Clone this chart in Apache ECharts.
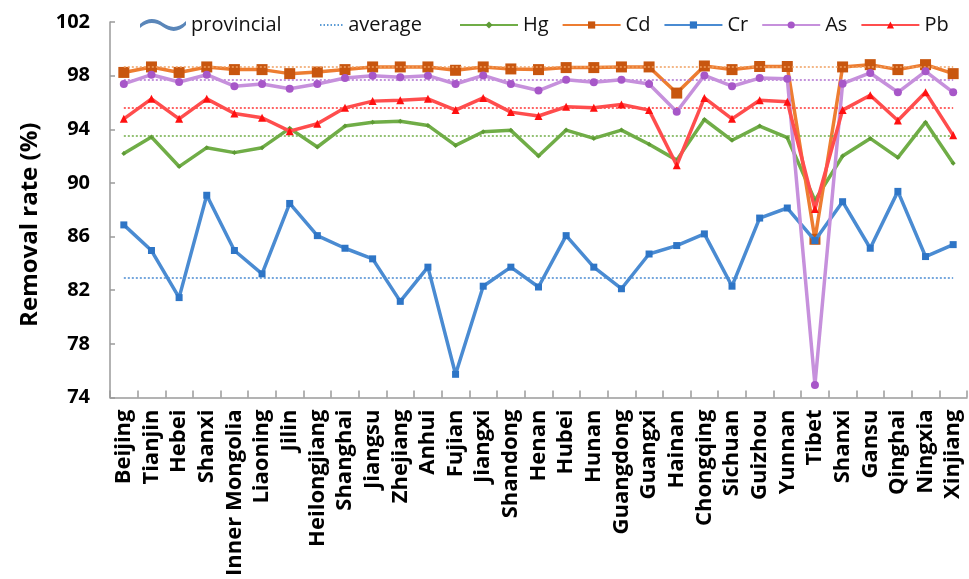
<!DOCTYPE html>
<html>
<head>
<meta charset="utf-8">
<title>Removal rate by province</title>
<script src="https://cdn.jsdelivr.net/npm/echarts@6/dist/echarts.min.js"></script>
<style>
  html, body { margin: 0; padding: 0; background: #ffffff; }
  #chart { width: 969px; height: 579px; }
</style>
</head>
<body>
<div id="chart"></div>
<script>
// Provinces along the x axis
const categories = ['Beijing','Tianjin','Hebei','Shanxi','Inner Mongolia','Liaoning','Jilin','Heilongjiang','Shanghai','Jiangsu','Zhejiang','Anhui','Fujian','Jiangxi','Shandong','Henan','Hubei','Hunan','Guangdong','Guangxi','Hainan','Chongqing','Sichuan','Guizhou','Yunnan','Tibet','Shanxi','Gansu','Qinghai','Ningxia','Xinjiang'];

// Provincial removal rates (%) per metal
const hg = [92.19,93.42,91.22,92.63,92.26,92.63,94.07,92.68,94.24,94.53,94.60,94.29,92.80,93.82,93.92,92.01,93.94,93.32,93.94,92.88,91.70,94.73,93.18,94.24,93.37,88.70,92.01,93.32,91.89,94.53,91.47];
const cd = [98.24,98.65,98.24,98.65,98.45,98.45,98.15,98.27,98.45,98.65,98.65,98.65,98.40,98.65,98.50,98.45,98.60,98.60,98.65,98.65,96.70,98.72,98.45,98.68,98.68,85.80,98.65,98.82,98.45,98.82,98.15];
const cr = [86.87,84.96,81.45,89.08,84.96,83.22,88.47,86.07,85.13,84.34,81.17,83.72,75.73,82.30,83.72,82.24,86.07,83.72,82.11,84.70,85.33,86.20,82.30,87.38,88.13,85.70,88.60,85.13,89.37,84.51,85.40];
const as = [97.38,98.07,97.53,98.07,97.21,97.38,97.03,97.38,97.82,98.00,97.88,98.00,97.38,98.02,97.38,96.89,97.70,97.50,97.70,97.38,95.31,98.02,97.21,97.82,97.77,74.94,97.40,98.20,96.76,98.32,96.76];
const pb = [94.78,96.27,94.78,96.27,95.18,94.86,93.86,94.41,95.60,96.10,96.17,96.27,95.43,96.34,95.28,94.99,95.68,95.60,95.85,95.43,91.32,96.34,94.78,96.17,96.05,88.05,95.43,96.54,94.66,96.76,93.55];

// National averages, in the order Hg, Cd, Cr, As, Pb
const metals = ['Hg','Cd','Cr','As','Pb'];
const averages = [93.55, 98.65, 82.91, 97.70, 95.60];

// Y axis ticks
const yTicks = [74, 78, 82, 86, 90, 94, 98, 102];

const chart = echarts.init(document.getElementById('chart'), null, { renderer: 'canvas' });

const FONT = 'Open Sans';

const styles = {
  Hg: { line: '#70AD47', mark: '#5E9A35', symbol: 'diamond', size: 5, avg: '#70AD47' },
  Cd: { line: '#ED7D31', mark: '#C8560F', symbol: 'rect', size: 11, avg: '#F0A060' },
  Cr: { line: '#4A8BD2', mark: '#2E75C6', symbol: 'rect', size: 7, avg: '#4A8BD2' },
  As: { line: '#C690DC', mark: '#A757C8', symbol: 'circle', size: 8, avg: '#B070D0' },
  Pb: { line: '#FF4D4D', mark: '#FF1010', symbol: 'triangle', size: 8, avg: '#FF4040' }
};

const values = { Hg: hg, Cd: cd, Cr: cr, As: as, Pb: pb };

const metalSeries = metals.map((m, i) => ({
  name: m,
  type: 'line',
  data: values[m],
  symbol: styles[m].symbol,
  symbolSize: styles[m].size,
  showSymbol: true,
  z: 3 + i,
  lineStyle: { color: styles[m].line, width: 3.5 },
  itemStyle: { color: styles[m].mark },
  emphasis: { disabled: true },
  animation: false,
  markLine: {
    silent: true,
    symbol: 'none',
    animation: false,
    label: { show: false },
    lineStyle: { type: [2, 2], width: 1.6, color: styles[m].avg, opacity: 1 },
    data: [[
      { coord: [0, averages[i]] },
      { coord: [categories.length - 1, averages[i]] }
    ]]
  }
}));

const legendText = { fontFamily: FONT, fontSize: 20, color: '#111' };

const option = {
  backgroundColor: '#ffffff',
  animation: false,
  grid: { left: 110, right: 2, top: 22, bottom: 180, containLabel: false },
  legend: [
    {
      left: 140, top: 15, padding: 0,
      itemWidth: 46, itemHeight: 14, itemGap: 10,
      textStyle: legendText,
      data: [{ name: 'provincial', icon: 'path://M0,7 C8,0 16,1 23,6 C30,11 38,12 46,4 L46,8 C38,16 30,15 23,10 C16,5 8,4 0,11 Z' }]
    },
    {
      left: 320, top: 15, padding: 0,
      itemWidth: 24, itemHeight: 2, itemGap: 10,
      textStyle: legendText,
      data: [{ name: 'average', icon: 'path://M0,0h1.5v2h-1.5Z M3.5,0h1.5v2h-1.5Z M7,0h1.5v2h-1.5Z M10.5,0h1.5v2h-1.5Z M14,0h1.5v2h-1.5Z M17.5,0h1.5v2h-1.5Z M21,0h1.5v2h-1.5Z' }]
    },
    {
      left: 459, top: 15, padding: 0, width: 510,
      itemWidth: 58, itemHeight: 9, itemGap: 13,
      textStyle: legendText,
      data: metals
    }
  ],
  xAxis: {
    type: 'category',
    data: categories,
    boundaryGap: true,
    axisLine: { lineStyle: { color: '#9a9a9a', width: 1.5 } },
    axisTick: { show: true, inside: true, length: 7, interval: 0, lineStyle: { color: '#9a9a9a', width: 1.5 } },
    axisLabel: {
      interval: 0, rotate: 90, margin: 12,
      fontFamily: FONT, fontWeight: 'bold', fontSize: 22, color: '#000'
    },
    splitLine: { show: false }
  },
  yAxis: {
    type: 'value',
    min: yTicks[0], max: yTicks[yTicks.length - 1], interval: 4,
    name: 'Removal rate (%)',
    nameLocation: 'middle',
    nameRotate: 90,
    nameGap: 68,
    nameTextStyle: { fontFamily: FONT, fontWeight: 'bold', fontSize: 24, color: '#000', padding: [0, 30, 0, 0] },
    axisLine: { show: true, lineStyle: { color: '#9a9a9a', width: 1.5 } },
    axisTick: { show: true, inside: true, length: 5, lineStyle: { color: '#9a9a9a', width: 1.5 } },
    axisLabel: { margin: 20, fontFamily: FONT, fontWeight: 'bold', fontSize: 20, color: '#000' },
    splitLine: { show: false }
  },
  series: [
    { name: 'provincial', type: 'line', data: [], color: '#5A86B9', lineStyle: { color: '#5A86B9' }, itemStyle: { color: '#5A86B9' } },
    { name: 'average', type: 'line', data: [], color: '#5B9BD5', lineStyle: { color: '#5B9BD5' }, itemStyle: { color: '#5B9BD5' } }
  ].concat(metalSeries)
};

chart.setOption(option);
</script>
</body>
</html>
